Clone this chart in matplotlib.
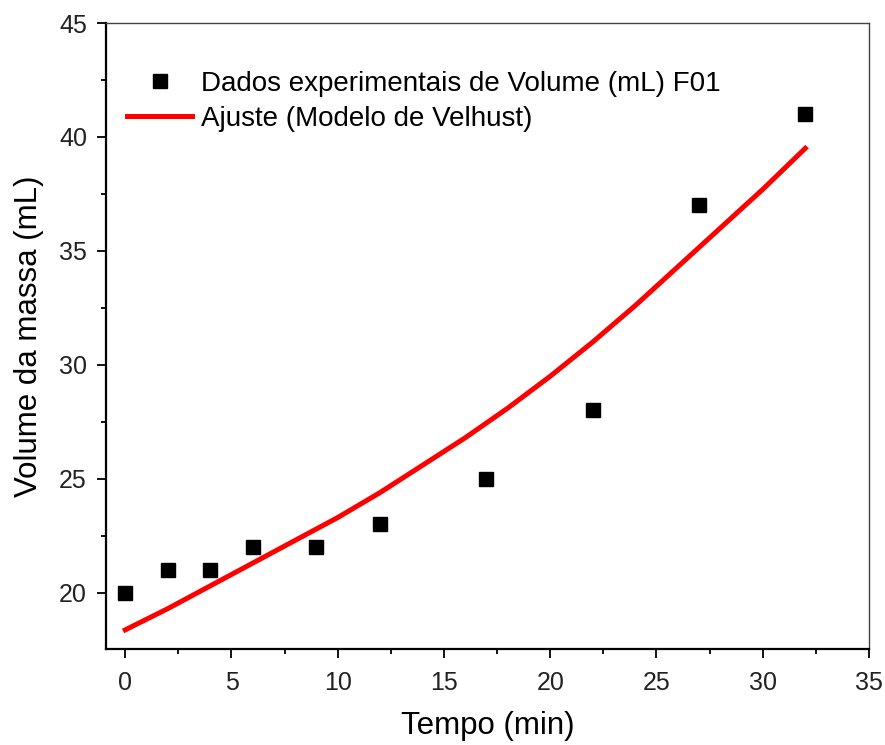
import matplotlib
matplotlib.use("Agg")
import matplotlib.pyplot as plt
from matplotlib.ticker import MultipleLocator

plt.rcParams['font.family'] = ['Liberation Sans', 'DejaVu Sans']

# experimental data (time in min, volume in mL)
tempo = [0, 2, 4, 6, 9, 12, 17, 22, 27, 32]
volume = [20, 21, 21, 22, 22, 23, 25, 28, 37, 41]

# fitted curve
tempo_fit = [0, 2, 4, 6, 8, 10, 12, 14, 16, 18, 20, 22, 24, 26, 28, 30, 32]
volume_fit = [18.37, 19.3, 20.3, 21.3, 22.3, 23.3, 24.4, 25.6, 26.8, 28.1,
              29.5, 31.0, 32.6, 34.3, 36.0, 37.7, 39.5]

fig = plt.figure(figsize=(8.85, 7.45), dpi=100)
ax = fig.add_axes([105.7 / 885, 1 - 649 / 745, (869 - 105.7) / 885, (649 - 23) / 745])

ax.plot(tempo, volume, 's', color='black', markersize=9.5, linestyle='none',
        label='Dados experimentais de Volume (mL) F01')
ax.plot(tempo_fit, volume_fit, '-', color='#ff0000', linewidth=3.6,
        label='Ajuste (Modelo de Velhust)')

ax.set_xlim(-0.92, 35)
ax.set_ylim(17.53, 45)
ax.xaxis.set_major_locator(MultipleLocator(5))
ax.xaxis.set_minor_locator(MultipleLocator(2.5))
ax.yaxis.set_major_locator(MultipleLocator(5))
ax.yaxis.set_minor_locator(MultipleLocator(2.5))

ax.tick_params(which='both', direction='out', width=1.3, colors='black',
               top=False, right=False)
ax.tick_params(which='major', length=6.5, labelsize=18)
ax.tick_params(axis='x', which='major', pad=9)
ax.tick_params(axis='y', which='major', pad=7)
ax.tick_params(which='minor', length=3.5)
for lab in ax.get_xticklabels() + ax.get_yticklabels():
    lab.set_color('#222222')

for side in ('left', 'bottom'):
    ax.spines[side].set_linewidth(1.6)
    ax.spines[side].set_color('black')
for side in ('top', 'right'):
    ax.spines[side].set_linewidth(1.0)
    ax.spines[side].set_color('#444444')

ax.set_xlabel('Tempo (min)', fontsize=22.5, labelpad=12)
ax.set_ylabel('Volume da massa (mL)', fontsize=22.5, labelpad=11)

ax.legend(loc='upper left', bbox_to_anchor=(127 / 885, 1 - 71 / 745),
          bbox_transform=fig.transFigure, frameon=False, fontsize=20,
          borderpad=0, borderaxespad=0, handlelength=2.35, handletextpad=0.3,
          labelspacing=0.33, numpoints=1)

fig.savefig('out.png', dpi=100)
